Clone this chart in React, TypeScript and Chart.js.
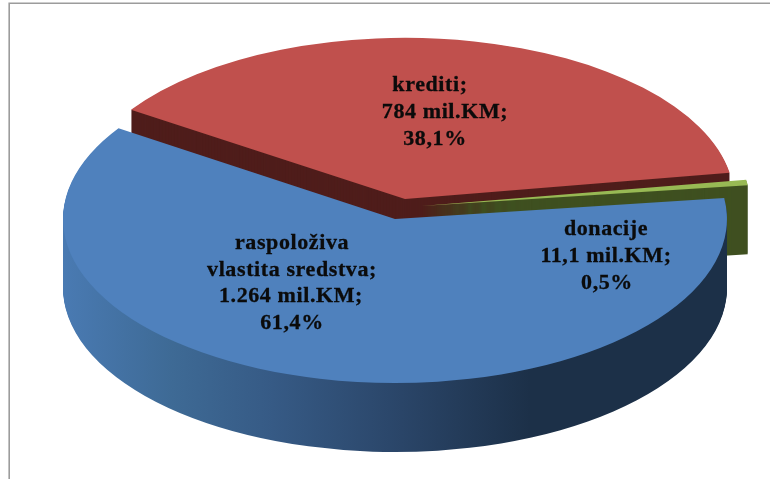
import React, { useEffect, useRef } from "react";
import { Chart, registerables } from "chart.js";

Chart.register(...registerables);

const categories = ["krediti", "donacije", "raspoloživa vlastita sredstva"];
const values = [784, 11.1, 1264];
const topColors = ["#c0504d", "#98b954", "#4f81bd"];
const wallColors = ["#4f1d1b", "#3f5020", "#2a4568"];
const labelLines = [
  ["krediti;", "784 mil.KM;", "38,1%"],
  ["donacije", "11,1 mil.KM;", "0,5%"],
  ["raspoloživa", "vlastita sredstva;", "1.264 mil.KM;", "61,4%"],
];
const labelX = [
  [430, 445, 435],
  [606, 606, 607],
  [292, 292, 291, 292],
];
const labelY = [
  [85, 112, 139],
  [229, 256, 283],
  [243, 270, 296, 323],
];
// Screen position of each exploded slice's apex, and its radius scale.
const apexX = [405, 421.5, 395];
const apexY = [199, 206, 219];
const scaleX = [1, 1, 1.009];
const scaleY = [0.49, 0.49, 0.4985];
const DEPTH = 69;
const ROTATION_DEG = -56.4;
const RADIUS = 329;

const pie3d = {
  id: "pie3d",
  beforeDraw(chart: any) {
    const { ctx, width, height } = chart;
    ctx.save();
    ctx.fillStyle = "#ffffff";
    ctx.fillRect(0, 0, width, height);
    ctx.strokeStyle = "#9c9c9c";
    ctx.lineWidth = 1.6;
    ctx.beginPath();
    ctx.moveTo(9.2, height);
    ctx.lineTo(9.2, 3.2);
    ctx.lineTo(width, 3.2);
    ctx.stroke();
    ctx.restore();
  },
  beforeDatasetsDraw(chart: any) {
    const { ctx } = chart;
    const arcs = chart.getDatasetMeta(0).data;
    arcs.forEach((arc: any, i: number) => {
      const r = arc.outerRadius;
      for (let k = DEPTH; k >= 1; k--) {
        ctx.save();
        ctx.translate(apexX[i], apexY[i] + k);
        let fill: any = wallColors[i];
        if (i === 2) {
          const g = ctx.createLinearGradient(60 - apexX[i], 0, 730 - apexX[i], 0);
          g.addColorStop(0, "#4a7bb4");
          g.addColorStop(0.17, "#3e6a95");
          g.addColorStop(0.32, "#365a85");
          g.addColorStop(0.51, "#2a4568");
          g.addColorStop(0.7, "#1c3048");
          g.addColorStop(1, "#1c3048");
          fill = g;
        }
        ctx.scale(scaleX[i], scaleY[i]);
        ctx.fillStyle = fill;
        ctx.beginPath();
        ctx.moveTo(0, 0);
        ctx.arc(0, 0, r, arc.startAngle, arc.endAngle);
        ctx.closePath();
        ctx.fill();
        ctx.restore();
      }
      ctx.save();
      ctx.translate(apexX[i], apexY[i]);
      ctx.scale(scaleX[i], scaleY[i]);
      ctx.translate(-arc.x, -arc.y);
      arc.draw(ctx);
      ctx.restore();
    });
    return false;
  },
  afterDraw(chart: any) {
    const { ctx } = chart;
    ctx.save();
    ctx.fillStyle = "#0b0b0b";
    ctx.strokeStyle = "#0b0b0b";
    ctx.lineWidth = 0.3;
    ctx.font = "bold 22px 'Liberation Serif'";
    ctx.letterSpacing = "0.6px";
    ctx.textAlign = "center";
    ctx.textBaseline = "middle";
    labelLines.forEach((lines, i) => {
      lines.forEach((line, j) => {
        ctx.fillText(line, labelX[i][j], labelY[i][j]);
        ctx.strokeText(line, labelX[i][j], labelY[i][j]);
      });
    });
    ctx.restore();
  },
};

export default function App() {
  const ref = useRef<HTMLCanvasElement>(null);
  useEffect(() => {
    const chart = new Chart(ref.current as HTMLCanvasElement, {
      type: "pie",
      data: {
        labels: categories,
        datasets: [
          {
            data: values,
            backgroundColor: topColors,
            borderWidth: 0,
            clip: false,
          } as any,
        ],
      },
      options: {
        animation: false,
        responsive: false,
        events: [],
        rotation: ROTATION_DEG,
        radius: RADIUS,
        layout: { padding: 0 },
        plugins: { legend: { display: false }, tooltip: { enabled: false } },
      } as any,
      plugins: [pie3d as any],
    });
    return () => chart.destroy();
  }, []);
  return (
    <canvas
      ref={ref}
      width={770}
      height={479}
      style={{ position: "absolute", left: 0, top: 0, display: "block" }}
    />
  );
}
